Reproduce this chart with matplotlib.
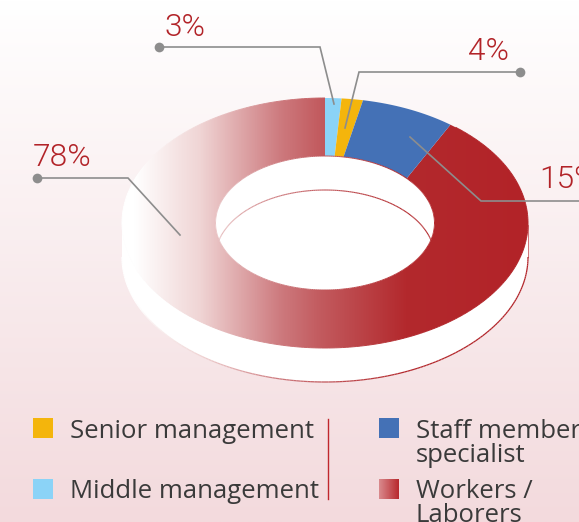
import numpy as np
import matplotlib
matplotlib.use("Agg")
import matplotlib.pyplot as plt
from matplotlib.collections import LineCollection
from matplotlib.colors import LinearSegmentedColormap
from matplotlib.patches import Polygon, Rectangle

# slices, clockwise from the top, as drawn on the outer and on the inner rim
categories = ["Middle management", "Senior management", "Staff member", "Workers / Laborers"]
shares_outer = [1.3, 1.7, 7.6, 89.4]
shares_inner = [1.4, 1.3, 10.7, 86.6]
pct_labels = ["3%", "4%", "15%", "78%"]
colors = ["#8bd3f7", "#f4b50c", "#4471b6", None]

# ring geometry in pixels
cx, cy = 325, 223
rx, ry = 203, 125
irx, iry = 109.5, 67
depth = 34

RED = "#b22328"
GREY = "#8d8d8d"
TEXT = "#3a3a3a"

fig = plt.figure(figsize=(5.79, 5.22), dpi=100)
ax = fig.add_axes([0, 0, 1, 1])
ax.axis("off")

# background
bg = LinearSegmentedColormap.from_list("bg", ["#ffffff", "#f3dadd"])
ax.imshow(np.linspace(0, 1, 256).reshape(-1, 1), cmap=bg, aspect="auto",
          extent=(0, 579, 522, 0), zorder=0)

# gradient of the big slice, left to right over the ring
stops = [(0.0, "#ffffff"), (0.03, "#ffffff"), (0.19, "#f0d5d5"), (0.39, "#cd7a7e"),
         (0.49, "#c25a5e"), (0.70, "#b3292d"), (1.0, RED)]
ring_cmap = LinearSegmentedColormap.from_list("ring", stops)


def ell(a, b, t, dy=0):
    return np.column_stack([cx + a * np.sin(t), cy + dy - b * np.cos(t)])


def grad_line(t, a, b, dy, lw, clip=None):
    pts = ell(a, b, t, dy)
    segs = np.stack([pts[:-1], pts[1:]], axis=1)
    lc = LineCollection(segs, cmap=ring_cmap, linewidths=lw, zorder=6)
    lc.set_array((segs[:, 0, 0] - (cx - rx)) / (2 * rx))
    lc.set_clim(0, 1)
    ax.add_collection(lc)
    if clip is not None:
        lc.set_clip_path(clip)
    return lc


full = np.linspace(0, 2 * np.pi, 361)

# white body below the ring
body = np.vstack([ell(rx, ry, np.radians(np.linspace(90, 270, 181))),
                  ell(rx, ry, np.radians(np.linspace(270, 90, 181)), depth)])
ax.add_patch(Polygon(body[::-1], fc="white", ec="none", zorder=2))
ax.add_patch(Polygon(ell(rx, ry, full), fc="white", ec="none", zorder=2))
grad_line(np.radians(np.linspace(90, 270, 181)), rx, ry, depth, 0.9)
ax.plot([cx + rx] * 2, [cy + 2, cy + depth], color=RED, lw=0.6, alpha=0.7, zorder=6)

# hole, with the far lower rim showing through
hole = Polygon(ell(irx, iry, full), fc="white", ec="none", zorder=4)
ax.add_patch(hole)
grad_line(full, irx, iry, depth, 0.8, clip=hole)

# slices
a0 = b0 = 0.0
for i in range(len(categories)):
    a1 = a0 + shares_outer[i] / 100 * 2 * np.pi
    b1 = b0 + shares_inner[i] / 100 * 2 * np.pi
    outer = ell(rx, ry, np.linspace(a0, a1, 200))
    inner = ell(irx, iry, np.linspace(b1, b0, 200))
    verts = np.vstack([outer, inner])
    if colors[i] is None:
        patch = Polygon(verts, fc="none", ec="none", zorder=3)
        ax.add_patch(patch)
        im = ax.imshow(np.linspace(0, 1, 512).reshape(1, -1), cmap=ring_cmap, aspect="auto",
                       extent=(cx - rx, cx + rx, cy + ry, cy - ry), zorder=3)
        im.set_clip_path(patch)
    else:
        ax.add_patch(Polygon(verts, fc=colors[i], ec="none", zorder=5))
    a0, b0 = a1, b1

# thin rims of the ring
grad_line(np.radians(np.linspace(40, 360, 321)), rx, ry, 0, 0.7)
grad_line(full, irx, iry, 0, 0.7)

# leaders
leaders = [
    ([159, 320, 334], [47, 47, 104], True),
    ([520, 359, 345], [72, 72, 128], True),
    ([579, 481, 410], [201, 201, 137], False),
    ([37, 128, 180], [178, 178, 235], True),
]
for xs, ys, dot in leaders:
    ax.plot(xs, ys, color=GREY, lw=1.2, zorder=7, solid_joinstyle="miter")
    if dot:
        ax.plot(xs[0], ys[0], "o", color=GREY, ms=7, mew=0, zorder=7)

label_pos = [(164, 28), (468, 52), (539, 180), (33, 158)]
for txt, (x, y) in zip(pct_labels, label_pos):
    ax.text(x, y, txt, color=RED, fontsize=22.8, family="Roboto", fontweight=300,
            ha="left", va="center", zorder=8)

# legend
sq = 20
ax.add_patch(Rectangle((33, 418), sq, sq, fc=colors[1], ec="none"))
ax.add_patch(Rectangle((33, 479), sq, sq, fc=colors[0], ec="none"))
ax.add_patch(Rectangle((379, 418), sq, sq, fc=colors[2], ec="none"))
leg = LinearSegmentedColormap.from_list("leg", ["#d98a8d", "#b8292e"])
ax.imshow(np.linspace(0, 1, 64).reshape(1, -1), cmap=leg, aspect="auto",
          extent=(379, 399, 499, 479), zorder=3)
ax.plot([328, 328], [419, 499], color="#c0272d", lw=1, zorder=3)

fs = 18.5
font = "Open Sans"
ax.text(70, 431, "Senior management", color=TEXT, fontsize=fs, family=font, va="center")
ax.text(70, 491, "Middle management", color=TEXT, fontsize=fs, family=font, va="center")
ax.text(416, 431, "Staff member", color=TEXT, fontsize=fs, family=font, va="center")
ax.text(416, 455, "specialist", color=TEXT, fontsize=fs, family=font, va="center")
ax.text(416, 491, "Workers /", color=TEXT, fontsize=fs, family=font, va="center")
ax.text(416, 515, "Laborers", color=TEXT, fontsize=fs, family=font, va="center")

ax.set_xlim(0, 579)
ax.set_ylim(522, 0)
fig.savefig("out.png", dpi=100)
